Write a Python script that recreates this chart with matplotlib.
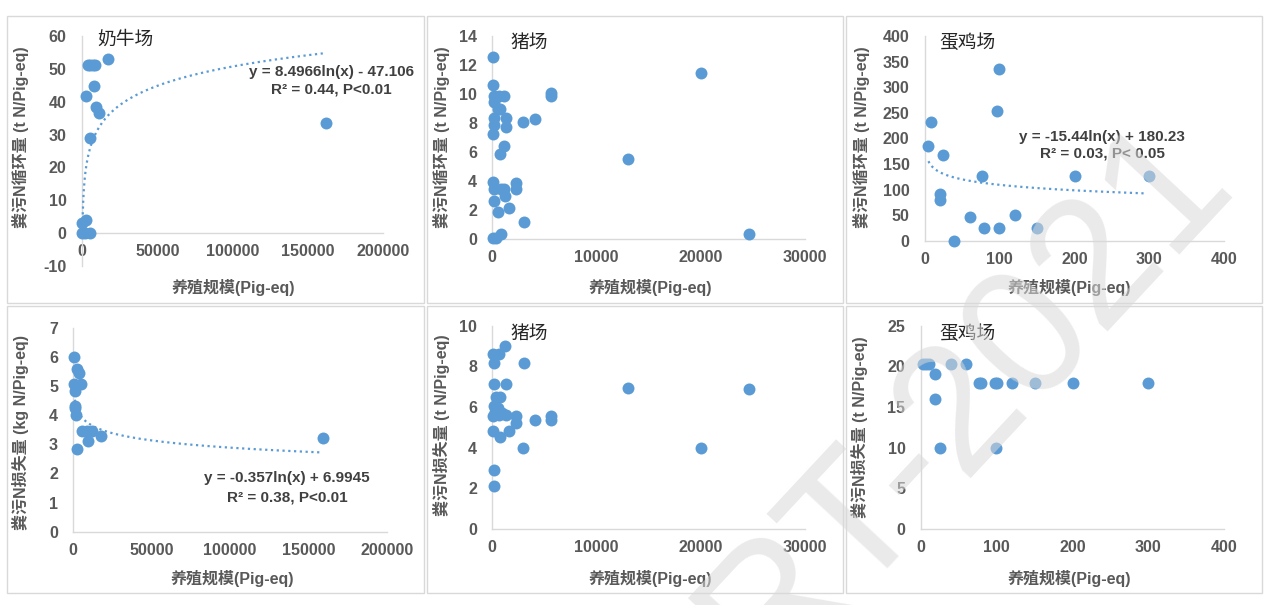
import numpy as np
import matplotlib.pyplot as plt
from matplotlib.patches import Rectangle

plt.rcParams["font.family"] = ["Liberation Sans", "Noto Sans CJK SC", "DejaVu Sans"]
plt.rcParams["axes.unicode_minus"] = False

# ------------------------------------------------------------
# data
# ------------------------------------------------------------
# 奶牛场 - N 循环量
dairy_cyc_x = [3800, 5500, 7000, 8700, 17500, 2700, 8200, 9100, 11100, 5300,
               162000, 2700, 100, 100, 2000, 5300]
dairy_cyc_y = [51.3, 51.3, 51.3, 51.3, 53.0, 41.7, 44.7, 38.3, 36.5, 29.0,
               33.4, 4.0, 3.1, 0.0, 0.0, 0.0]

# 猪场 - N 循环量
pig_cyc_x = [100, 100, 20030, 5600, 5600, 200, 600, 1100, 200, 500,
             750, 200, 1300, 2950, 4060, 200, 1300, 100, 1150, 750,
             13000, 100, 2250, 2250, 150, 850, 1100, 1200, 150, 500,
             1650, 3000, 800, 100, 400, 24640]
pig_cyc_y = [12.53, 10.65, 11.48, 10.1, 9.87, 9.87, 9.87, 9.87, 9.48, 9.0,
             8.95, 8.33, 8.33, 8.06, 8.26, 7.87, 7.71, 7.25, 6.45, 5.85,
             5.53, 3.97, 3.86, 3.44, 3.45, 3.45, 3.45, 2.98, 2.66, 1.9,
             2.13, 1.17, 0.37, 0.07, 0.07, 0.34]

# 蛋鸡场 - N 循环量
layer_cyc_x = [4, 9, 24, 20, 20, 39, 60, 76, 79, 99, 97, 99, 120, 150, 200, 300]
layer_cyc_y = [185, 231, 167, 91, 80, 0, 46, 127, 24, 335, 254, 24, 50, 24, 127, 127]

# 奶牛场 - N 损失量
dairy_loss_x = [640, 2550, 3600, 400, 4900, 850, 850, 850, 1700, 5300,
                8500, 11700, 17450, 9150, 2550, 159600]
dairy_loss_y = [6.0, 5.58, 5.46, 5.07, 5.07, 4.83, 4.31, 4.23, 4.0, 3.47,
                3.47, 3.47, 3.29, 3.11, 2.84, 3.23]

# 猪场 - N 损失量
pig_loss_x = [1200, 100, 650, 150, 3040, 200, 1300, 13060, 24580, 400,
              750, 200, 500, 100, 650, 1300, 2300, 5600, 5600, 4060,
              2300, 60, 1650, 750, 2950, 20030, 130, 130, 950, 300]
pig_loss_y = [9.02, 8.59, 8.59, 8.18, 8.15, 7.13, 7.13, 6.95, 6.9, 6.48,
              6.48, 6.07, 5.93, 5.57, 5.6, 5.6, 5.57, 5.57, 5.36, 5.36,
              5.2, 4.82, 4.82, 4.54, 3.97, 3.97, 2.9, 2.13, 5.69, 5.77]

# 蛋鸡场 - N 损失量
layer_loss_x = [3.5, 7, 10.5, 40, 60, 19.3, 77, 79.5, 98, 100, 120, 150, 200, 299,
                19.3, 25, 99.7]
layer_loss_y = [20.3, 20.3, 20.3, 20.3, 20.3, 19.06, 18, 18, 18, 18, 18, 18, 18, 18,
                16, 9.92, 9.92]

# log trendlines: (a, b, x_start, x_end)  y = a*ln(x) + b
trend_dairy_cyc = (8.4966, -47.106, 500, 160000)
trend_layer_cyc = (-15.44, 180.23, 5, 295)
trend_dairy_loss = (-0.357, 6.9945, 1000, 157000)

# ------------------------------------------------------------
# style
# ------------------------------------------------------------
W, H = 1272, 605
DOT = "#5B9BD5"
AXIS = "#D9D9D9"
TICK = "#595959"
EQ = "#404040"

YLAB_CYC = "粪污N循环量 (t N/Pig-eq)"
YLAB_LOSS_KG = "粪污N损失量 (kg N/Pig-eq)"
YLAB_LOSS_T = "粪污N损失量 (t N/Pig-eq)"
XLAB = "养殖规模(Pig-eq)"

fig = plt.figure(figsize=(W / 100, H / 100), dpi=100)


def fx(x):
    return x / W


def fy(y):
    return 1 - y / H


# panel frames
for (x0, x1) in [(7, 424), (427, 843), (846, 1262)]:
    for (y0, y1) in [(16, 303), (306, 593)]:
        fig.add_artist(Rectangle((fx(x0), fy(y1)), fx(x1 - x0), (y1 - y0) / H,
                                 transform=fig.transFigure, fill=False,
                                 edgecolor=AXIS, linewidth=1))


def make_panel(box, xlim, ylim, xstep, ystep, xs, ys, title=None, title_xy=None,
               ylab="", ylab_xy=None, xlab_xy=None):
    x0, x1, ytop, ybot = box
    ax = fig.add_axes([fx(x0), fy(ybot), fx(x1 - x0), (ybot - ytop) / H])
    ax.set_xlim(*xlim)
    ax.set_ylim(*ylim)
    ax.set_xticks(np.arange(xlim[0], xlim[1] + 1e-9, xstep))
    ax.set_yticks(np.arange(ylim[0], ylim[1] + 1e-9, ystep))
    ax.patch.set_alpha(0)
    for s in ["top", "right"]:
        ax.spines[s].set_visible(False)
    ax.spines["left"].set_position(("data", 0))
    ax.spines["bottom"].set_position(("data", 0))
    for s in ["left", "bottom"]:
        ax.spines[s].set_color(AXIS)
        ax.spines[s].set_linewidth(1.0)
    ax.tick_params(axis="both", length=0, labelsize=11.5, labelcolor=TICK)
    ax.tick_params(axis="y", pad=11)
    ax.tick_params(axis="x", pad=8)
    for lab in ax.get_xticklabels() + ax.get_yticklabels():
        lab.set_fontweight("bold")
    ax.scatter(xs, ys, s=74, color=DOT, linewidths=0, clip_on=False, zorder=3)
    if title:
        fig.text(fx(title_xy[0]), fy(title_xy[1]), title, fontsize=13.5,
                 color="#262626", family=["Noto Sans CJK SC"], ha="left", va="center")
    fig.text(fx(ylab_xy[0]), fy(ylab_xy[1]), ylab, rotation=90, fontsize=11.5,
             color=TICK, fontweight="bold", ha="center", va="center")
    fig.text(fx(xlab_xy[0]), fy(xlab_xy[1]), XLAB, fontsize=11.5,
             color=TICK, fontweight="bold", ha="center", va="center")
    return ax


def add_trend(ax, trend):
    a, b, xa, xb = trend
    xx = np.geomspace(xa, xb, 400)
    ax.plot(xx, a * np.log(xx) + b, color=DOT, linewidth=1.6,
            linestyle=(0, (1, 1.6)), zorder=4, clip_on=False)


def add_eq(cx, y1, y2, line1, line2):
    for y, t in [(y1, line1), (y2, line2)]:
        fig.text(fx(cx), fy(y), t, fontsize=11, color=EQ, fontweight="bold",
                 ha="center", va="center")


# row 1 -------------------------------------------------------
ax1 = make_panel((82, 383, 36, 266), (0, 200000), (-10, 60), 50000, 10,
                 dairy_cyc_x, dairy_cyc_y, "奶牛场", (97, 39),
                 YLAB_CYC, (21, 137), (233, 287))
add_trend(ax1, trend_dairy_cyc)
add_eq(331, 72, 89, "y = 8.4966ln(x) - 47.106", "R² = 0.44, P<0.01")

ax2 = make_panel((492.3, 805, 36, 239.3), (0, 30000), (0, 14), 10000, 2,
                 pig_cyc_x, pig_cyc_y, "猪场", (510, 42),
                 YLAB_CYC, (441, 137), (650, 287))

ax3 = make_panel((924.7, 1224.3, 36, 240.7), (0, 400), (0, 400), 100, 50,
                 layer_cyc_x, layer_cyc_y, "蛋鸡场", (939, 42),
                 YLAB_CYC, (861, 137), (1069, 287))
add_trend(ax3, trend_layer_cyc)
add_eq(1102, 137, 154, "y = -15.44ln(x) + 180.23", "R² = 0.03, P< 0.05")

# row 2 -------------------------------------------------------
ax4 = make_panel((73.3, 386.7, 327.7, 531.7), (0, 200000), (0, 7), 50000, 1,
                 dairy_loss_x, dairy_loss_y, None, None,
                 YLAB_LOSS_KG, (21, 432), (232, 578))
add_trend(ax4, trend_dairy_loss)
add_eq(287, 478, 497, "y = -0.357ln(x) + 6.9945", "R² = 0.38, P<0.01")

ax5 = make_panel((492.3, 805, 325.7, 529), (0, 30000), (0, 10), 10000, 2,
                 pig_loss_x, pig_loss_y, "猪场", (510, 333),
                 YLAB_LOSS_T, (441, 425), (650, 578))

ax6 = make_panel((920.7, 1224.3, 325.7, 529), (0, 400), (0, 25), 100, 5,
                 layer_loss_x, layer_loss_y, "蛋鸡场", (939, 333),
                 YLAB_LOSS_T, (859, 427), (1069, 578))

# watermark (semi-transparent, drawn above everything)
fig.text(fx(1000), fy(432), "RT-2021", fontsize=130, rotation=47,
         rotation_mode="anchor", ha="center", va="baseline",
         color="#D9D9D9", alpha=0.55, family=["Liberation Sans"], zorder=20)

fig.savefig("out.png", dpi=100, facecolor="white")
